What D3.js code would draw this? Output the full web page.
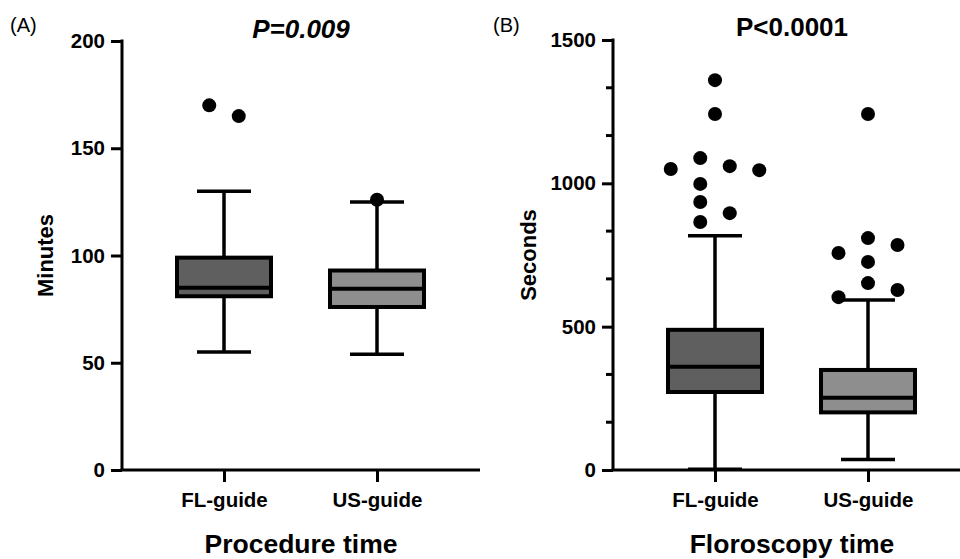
<!DOCTYPE html>
<html>
<head>
<meta charset="utf-8">
<script src="https://cdn.jsdelivr.net/npm/d3@7"></script>
<style>
  html, body { margin: 0; padding: 0; background: #fff; }
  svg { display: block; font-family: "Liberation Sans", Arial, sans-serif; }
</style>
</head>
<body>
<svg width="960" height="559"></svg>
<script>
// groups on the x axis
var groups = ["FL-guide", "US-guide"];

// panel A: procedure time (minutes)
var procMin = [55, 54];
var procQ1 = [81, 76];
var procMedian = [85, 84.5];
var procQ3 = [99, 93];
var procMax = [130, 125];
var procOutliers = [[170, 165], [126]];
var procTicks = [0, 50, 100, 150, 200];

// panel B: floroscopy time (seconds)
var floMin = [3, 37];
var floQ1 = [272, 201];
var floMedian = [360, 252];
var floQ3 = [489, 349];
var floMax = [817, 593];
var floOutliers = [
    [1360, 1242, 1088, 1060, 1050, 1046, 998, 935, 896, 865],
    [1242, 809, 785, 757, 726, 652, 628, 603]
];
var floTicks = [0, 500, 1000, 1500];
var floMinorPerMajor = 3;

var fills = ["#5f5f5f", "#8e8e8e"];

var svg = d3.select("svg");
var top0 = 40, bottom0 = 470, axisLen = 358;

function statsFor(mins, q1s, meds, q3s, maxs, outs) {
    return groups.map(function (g, i) {
        return {group: g, min: mins[i], q1: q1s[i], median: meds[i], q3: q3s[i], max: maxs[i], outliers: outs[i], fill: fills[i]};
    });
}

// simple swarm: lanes of half steps, collisions on same/near lanes, then clusters centred
function swarm(ys, step, gap) {
    var order = ys.map(function (y, i) { return i; }).sort(function (a, b) { return ys[a] - ys[b]; });
    var lanes = [0];
    for (var k = 0.5; k <= 6; k += 0.5) { lanes.push(k, -k); }
    var placed = [];
    var lane = new Array(ys.length);
    order.forEach(function (i) {
        for (var j = 0; j < lanes.length; j++) {
            var k = lanes[j];
            var ok = placed.every(function (p) {
                return Math.abs(p.k - k) >= 1 || Math.abs(p.y - ys[i]) >= gap;
            });
            if (ok) { lane[i] = k; placed.push({k: k, y: ys[i]}); break; }
        }
    });
    // centre each chain of overlapping rows
    var cluster = [];
    function flush() {
        if (!cluster.length) return;
        var m = d3.mean(cluster, function (i) { return lane[i]; });
        var shift = Math.round(m * 2) / 2;
        cluster.forEach(function (i) { lane[i] -= shift; });
        cluster = [];
    }
    order.forEach(function (i, n) {
        if (n > 0 && ys[i] - ys[order[n - 1]] >= gap) flush();
        cluster.push(i);
    });
    flush();
    return lane.map(function (k) { return k * step; });
}

function drawPanel(opts) {
    var g = svg.append("g").attr("transform", "translate(" + opts.left + ",0)");

    var y = d3.scaleLinear().domain(opts.domain).range([bottom0, opts.top]);
    var x = d3.scalePoint().domain(groups).range([102, 255]);

    // y axis
    g.append("line")
        .attr("x1", 0).attr("x2", 0)
        .attr("y1", y(opts.domain[1]) - 1.5).attr("y2", bottom0)
        .attr("stroke", "#000").attr("stroke-width", 3);

    if (opts.minor) {
        g.selectAll(".minor").data(opts.minor).enter().append("line")
            .attr("x1", -7).attr("x2", 0)
            .attr("y1", function (d) { return y(d); }).attr("y2", function (d) { return y(d); })
            .attr("stroke", "#000").attr("stroke-width", 3);
    }

    var yAxis = g.append("g")
        .call(d3.axisLeft(y).tickValues(opts.ticks).tickSize(11).tickPadding(6).tickFormat(d3.format("d")));
    yAxis.select(".domain").remove();
    yAxis.selectAll("line").attr("stroke", "#000").attr("stroke-width", 3);
    yAxis.selectAll("text")
        .attr("fill", "#000")
        .style("font-family", "'Liberation Sans', Arial, sans-serif")
        .style("font-size", "20.5px").style("font-weight", "bold");

    // x axis
    g.append("line")
        .attr("x1", -1.5).attr("x2", axisLen)
        .attr("y1", bottom0).attr("y2", bottom0)
        .attr("stroke", "#000").attr("stroke-width", 3);
    var xAxis = g.append("g")
        .attr("transform", "translate(0," + bottom0 + ")")
        .call(d3.axisBottom(x).tickSize(12).tickPadding(10));
    xAxis.select(".domain").remove();
    xAxis.selectAll("line").attr("stroke", "#000").attr("stroke-width", 3);
    xAxis.selectAll("text")
        .attr("fill", "#000")
        .style("font-family", "'Liberation Sans', Arial, sans-serif")
        .style("font-size", "20.5px").style("font-weight", "bold");

    var boxW = 94, capW = 54;
    var box = g.selectAll(".box").data(opts.stats).enter().append("g")
        .attr("transform", function (d) { return "translate(" + x(d.group) + ",0)"; });

    box.append("line")
        .attr("x1", 0).attr("x2", 0)
        .attr("y1", function (d) { return y(d.max); }).attr("y2", function (d) { return y(d.min); })
        .attr("stroke", "#000").attr("stroke-width", 3.5);
    box.selectAll(".cap").data(function (d) { return [d.min, d.max]; }).enter().append("line")
        .attr("x1", -capW / 2).attr("x2", capW / 2)
        .attr("y1", function (v) { return y(v); }).attr("y2", function (v) { return y(v); })
        .attr("stroke", "#000").attr("stroke-width", 3.5);
    box.append("rect")
        .attr("x", -boxW / 2).attr("width", boxW)
        .attr("y", function (d) { return y(d.q3); })
        .attr("height", function (d) { return y(d.q1) - y(d.q3); })
        .attr("fill", function (d) { return d.fill; })
        .attr("stroke", "#000").attr("stroke-width", 4);
    box.append("line")
        .attr("x1", -boxW / 2).attr("x2", boxW / 2)
        .attr("y1", function (d) { return y(d.median); }).attr("y2", function (d) { return y(d.median); })
        .attr("stroke", "#000").attr("stroke-width", 4);

    box.each(function (d) {
        var ys = d.outliers.map(function (v) { return y(v); });
        var dx = swarm(ys, 29.5, 16.5);
        d3.select(this).selectAll("circle").data(d.outliers).enter().append("circle")
            .attr("cx", function (v, i) { return dx[i]; })
            .attr("cy", function (v) { return y(v); })
            .attr("r", 7)
            .attr("fill", "#000");
    });

    // texts
    g.append("text")
        .attr("transform", "translate(" + (opts.yTitleX - opts.left) + "," + ((bottom0 + opts.top) / 2) + ") rotate(-90)")
        .attr("text-anchor", "middle")
        .style("font-size", "22px").style("font-weight", "bold")
        .text(opts.yTitle);

    g.append("text")
        .attr("x", axisLen / 2).attr("y", 553)
        .attr("text-anchor", "middle")
        .style("font-size", "26.5px").style("font-weight", "bold")
        .text(opts.xTitle);

    g.append("text")
        .attr("x", axisLen / 2).attr("y", opts.titleY)
        .attr("text-anchor", "middle")
        .style("font-size", "26px").style("font-weight", "bold")
        .style("font-style", opts.italic ? "italic" : "normal")
        .text(opts.title);

    svg.append("text")
        .attr("x", opts.labelX).attr("y", 32)
        .style("font-size", "20px")
        .text(opts.label);
}

var floMinor = [];
floTicks.slice(1).forEach(function (t, i) {
    var step = (t - floTicks[i]) / floMinorPerMajor;
    for (var j = 1; j < floMinorPerMajor; j++) floMinor.push(floTicks[i] + j * step);
});

drawPanel({
    left: 122, top: 41, domain: [0, 200], ticks: procTicks,
    stats: statsFor(procMin, procQ1, procMedian, procQ3, procMax, procOutliers),
    yTitle: "Minutes", yTitleX: 53, xTitle: "Procedure time",
    title: "P=0.009", italic: true, titleY: 38, label: "(A)", labelX: 10
});

drawPanel({
    left: 613, top: 40, domain: [0, 1500], ticks: floTicks, minor: floMinor,
    stats: statsFor(floMin, floQ1, floMedian, floQ3, floMax, floOutliers),
    yTitle: "Seconds", yTitleX: 536, xTitle: "Floroscopy time",
    title: "P<0.0001", italic: false, titleY: 36, label: "(B)", labelX: 493
});
</script>
</body>
</html>
